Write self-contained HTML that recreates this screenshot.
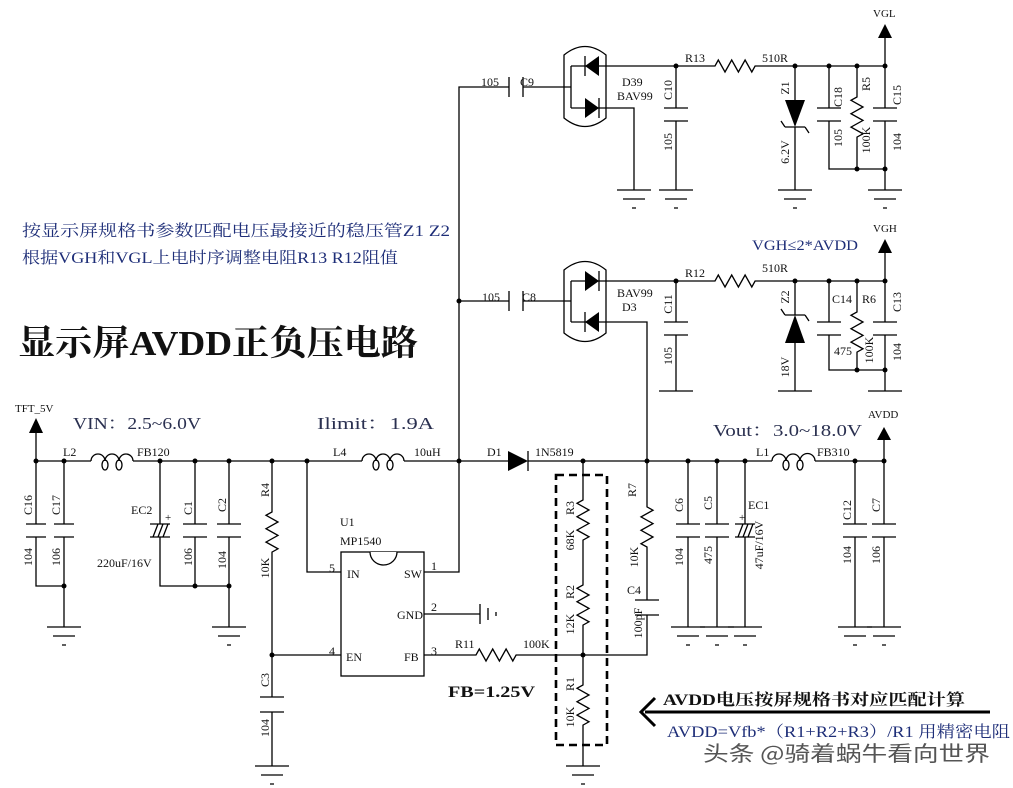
<!DOCTYPE html>
<html><head><meta charset="utf-8"><style>
html,body{margin:0;padding:0;background:#fff;width:1013px;height:788px;overflow:hidden}
svg{display:block}
text{font-family:"Liberation Serif","Noto Serif CJK SC",serif;font-size:12px;fill:#111}
.w{fill:none;stroke:#000;stroke-width:1.3}
.r text{text-anchor:middle}
.b{fill:#1e2e78}
</style></head><body>
<svg width="1013" height="788" viewBox="0 0 1013 788" xmlns="http://www.w3.org/2000/svg">
<g class="w">
<path d="M36 461H91M133 461H362M404 461H508M528 461H772M815 461H884"/>
<path d="M36 461V432"/>
<path d="M36 461V524M26 524H46M26 537H46M36 537V586H64M64 461V524M54 524H74M54 537H74M64 537V627"/>
<path d="M47 627H81M53 636H75M62 645H66"/>
<path d="M160 461V524M150 524H170M150 537H170M153 537L158 524M158 537L163 524M163 537L168 524M160 537V586H229"/>
<path d="M195 461V524M183 524H207M183 537H207M195 537V586"/>
<path d="M229 461V524M217 524H241M217 537H241M229 537V627M212 627H246M218 636H240M227 645H231"/>
<path d="M272 461V512l-6 3.3l12 6.7l-12 6.7l12 6.7l-12 6.7l12 6.7l-6 3.3V697M260 697H284M260 712H284M272 712V766M255 766H289M261 775H283M270 784H274"/>
<path d="M272 655H341M307 461V572H341"/>
<rect x="341" y="552" width="83" height="124"/>
<path d="M370 552a13.5 13 0 0 0 27 0" style="fill:#fff"/>
<path d="M424 572H459V87H509M509 77V97M523 77V97M523 87H571"/>
<path d="M424 614H480M480 604V624M488 608V620M496 612V616"/>
<path d="M564 55Q585 38 606 55V118Q585 135 564 118Z"/>
<path d="M571 66V108M571 66H676M585 56V76M571 108H634V190M599 98V118"/>
<path d="M617 190H651M623 199H645M632 208H636"/>
<path d="M676 66V108M664 108H688M664 121H688M676 121V190M659 190H693M665 199H687M674 208H678"/>
<path d="M676 66H715l3.3-6l6.7 12l6.7-12l6.7 12l6.7-12l6.7 12l3.3-6H885"/>
<path d="M795 66V100M785 127H805M781 121L785 127M805 127L809 133M795 127V190M778 190H812M784 199H806M793 208H797"/>
<path d="M829 66V108M817 108H841M817 121H841M829 121V169H885"/>
<path d="M857 66V97l-6 3.3l12 6.7l-12 6.7l12 6.7l-12 6.7l12 6.7l-6 3.3V169"/>
<path d="M885 66V108M873 108H897M873 121H897M885 121V190M868 190H902M874 199H896M883 208H887"/>
<path d="M885 66V38"/>
<path d="M459 301H509M509 291V311M523 291V311M523 301H571"/>
<path d="M564 270Q585 253 606 270V333Q585 350 564 333Z"/>
<path d="M571 281V322M571 281H676M599 271V291M571 322H647V461M585 312V332"/>
<path d="M676 281V322M664 322H688M664 335H688M676 335V391M659 391H693"/>
<path d="M676 281H715l3.3-6l6.7 12l6.7-12l6.7 12l6.7-12l6.7 12l3.3-6H885"/>
<path d="M795 281V315M785 315H805M781 309L785 315M805 315L809 321M795 343V391M778 391H812"/>
<path d="M829 281V322M817 322H841M817 335H841M829 335V370H885"/>
<path d="M857 281V312l-6 3.3l12 6.7l-12 6.7l12 6.7l-12 6.7l12 6.7l-6 3.3V370"/>
<path d="M885 281V322M873 322H897M873 335H897M885 335V391M868 391H902M885 281V253"/>
<path d="M528 451V471"/>
<path d="M583 461V500l-6 3.3l12 6.7l-12 6.7l12 6.7l-12 6.7l12 6.7l-6 3.3V585l-6 3.3l12 6.7l-12 6.7l12 6.7l-12 6.7l12 6.7l-6 3.3V685l-6 3.3l12 6.7l-12 6.7l12 6.7l-12 6.7l12 6.7l-6 3.3V766M566 766H600M572 775H594M581 784H585"/>
<path d="M424 655H476l3.3-6l6.7 12l6.7-12l6.7 12l6.7-12l6.7 12l3.3-6H647V615M635 615H659M635 600H659M647 600V547l-6-3.3l12-6.7l-12-6.7l12-6.7l-12-6.7l12-6.7l-6-3.3V461"/>
<rect x="556" y="475" width="51" height="270" stroke-width="2.6" stroke-dasharray="8,5"/>
<path d="M688 461V524M676 524H700M676 537H700M688 537V627M671 627H705M677 636H699M686 645H690"/>
<path d="M717 461V524M705 524H729M705 537H729M717 537V627M700 627H734M706 636H728M715 645H719"/>
<path d="M745 461V524M735 524H755M735 537H755M738 537L743 524M743 537L748 524M748 537L753 524M745 537V627M728 627H762M734 636H756M743 645H747"/>
<path d="M855 461V524M843 524H867M843 537H867M855 537V627M838 627H872M844 636H866M853 645H857"/>
<path d="M884 461V524M872 524H896M872 537H896M884 537V627M867 627H901M873 636H895M882 645H886"/>
<path d="M884 461V440"/>
<path d="M91 461a7 7 0 0 1 14 0a7 7 0 0 1 14 0a7 7 0 0 1 14 0"/>
<ellipse cx="105" cy="465" rx="3" ry="5"/><ellipse cx="119" cy="465" rx="3" ry="5"/>
<path d="M362 461a7 7 0 0 1 14 0a7 7 0 0 1 14 0a7 7 0 0 1 14 0"/>
<ellipse cx="376" cy="465" rx="3" ry="5"/><ellipse cx="390" cy="465" rx="3" ry="5"/>
<path d="M772 461a7 7 0 0 1 14 0a7 7 0 0 1 14 0a7 7 0 0 1 15 0"/>
<ellipse cx="786" cy="465" rx="3" ry="5"/><ellipse cx="800" cy="465" rx="3" ry="5"/>
<path d="M645 712H990" stroke-width="3"/>
<path d="M655 698L641 712L655 726" stroke-width="3"/>
</g>
<g fill="#000">
<polygon points="36,418 29,433 43,433"/>
<polygon points="885,24 878,38 892,38"/>
<polygon points="885,239 878,253 892,253"/>
<polygon points="884,427 877,440 891,440"/>
<polygon points="508,451 508,471 528,461"/>
<polygon points="585,66 599,56 599,76"/>
<polygon points="585,98 585,118 599,108"/>
<polygon points="585,271 585,291 599,281"/>
<polygon points="585,322 599,312 599,332"/>
<polygon points="785,100 805,100 795,127"/>
<polygon points="795,315 785,343 805,343"/>
<g>
<circle cx="36" cy="461" r="2.5"/><circle cx="64" cy="461" r="2.5"/><circle cx="160" cy="461" r="2.5"/><circle cx="195" cy="461" r="2.5"/><circle cx="229" cy="461" r="2.5"/><circle cx="272" cy="461" r="2.5"/><circle cx="307" cy="461" r="2.5"/><circle cx="459" cy="461" r="2.5"/><circle cx="583" cy="461" r="2.5"/><circle cx="647" cy="461" r="2.5"/><circle cx="688" cy="461" r="2.5"/><circle cx="717" cy="461" r="2.5"/><circle cx="745" cy="461" r="2.5"/><circle cx="855" cy="461" r="2.5"/><circle cx="884" cy="461" r="2.5"/>
<circle cx="64" cy="586" r="2.5"/><circle cx="195" cy="586" r="2.5"/><circle cx="229" cy="586" r="2.5"/><circle cx="272" cy="655" r="2.5"/><circle cx="583" cy="655" r="2.5"/><circle cx="459" cy="301" r="2.5"/>
<circle cx="676" cy="66" r="2.5"/><circle cx="795" cy="66" r="2.5"/><circle cx="829" cy="66" r="2.5"/><circle cx="857" cy="66" r="2.5"/><circle cx="885" cy="66" r="2.5"/><circle cx="857" cy="169" r="2.5"/><circle cx="885" cy="169" r="2.5"/>
<circle cx="676" cy="281" r="2.5"/><circle cx="795" cy="281" r="2.5"/><circle cx="829" cy="281" r="2.5"/><circle cx="857" cy="281" r="2.5"/><circle cx="885" cy="281" r="2.5"/><circle cx="857" cy="370" r="2.5"/><circle cx="885" cy="370" r="2.5"/>
</g>
</g>
<text x="15" y="412" style="font-size:11px">TFT_5V</text>
<text x="63" y="456">L2</text><text x="137" y="456">FB120</text>
<text x="131" y="514">EC2</text><text x="165" y="521" style="font-size:11px">+</text>
<text x="97" y="567">220uF/16V</text>
<text x="340" y="526">U1</text><text x="340" y="545">MP1540</text>
<text x="329" y="572">5</text><text x="347" y="578">IN</text><text x="404" y="578">SW</text><text x="431" y="570">1</text>
<text x="397" y="619">GND</text><text x="431" y="611">2</text>
<text x="329" y="655">4</text><text x="346" y="661">EN</text><text x="404" y="661">FB</text><text x="431" y="655">3</text>
<text x="455" y="648">R11</text><text x="523" y="648">100K</text>
<text x="333" y="456">L4</text><text x="414" y="456">10uH</text><text x="487" y="456">D1</text><text x="535" y="456">1N5819</text>
<text x="627" y="594">C4</text><text x="748" y="509">EC1</text><text x="739" y="521" style="font-size:11px">+</text>
<text x="756" y="456">L1</text><text x="817" y="456">FB310</text>
<text x="868" y="418" style="font-size:11px">AVDD</text>
<text x="481" y="86">105</text><text x="520" y="86">C9</text>
<text x="622" y="86">D39</text><text x="617" y="100">BAV99</text>
<text x="685" y="62">R13</text><text x="762" y="62">510R</text>
<text x="873" y="17" style="font-size:11px">VGL</text>
<text x="482" y="301">105</text><text x="522" y="301">C8</text>
<text x="617" y="297">BAV99</text><text x="622" y="311">D3</text>
<text x="685" y="277">R12</text><text x="762" y="272">510R</text>
<text x="832" y="303">C14</text><text x="862" y="303">R6</text><text x="834" y="355">475</text>
<text x="873" y="232" style="font-size:11px">VGH</text>
<g class="r">
<text transform="rotate(-90 28 505)" x="28" y="509">C16</text>
<text transform="rotate(-90 56 505)" x="56" y="509">C17</text>
<text transform="rotate(-90 28 557)" x="28" y="561">104</text>
<text transform="rotate(-90 56 557)" x="56" y="561">106</text>
<text transform="rotate(-90 188 508)" x="188" y="512">C1</text>
<text transform="rotate(-90 188 557)" x="188" y="561">106</text>
<text transform="rotate(-90 222 505)" x="222" y="509">C2</text>
<text transform="rotate(-90 222 560)" x="222" y="564">104</text>
<text transform="rotate(-90 265 490)" x="265" y="494">R4</text>
<text transform="rotate(-90 265 568)" x="265" y="572">10K</text>
<text transform="rotate(-90 265 680)" x="265" y="684">C3</text>
<text transform="rotate(-90 265 728)" x="265" y="732">104</text>
<text transform="rotate(-90 570 508)" x="570" y="512">R3</text>
<text transform="rotate(-90 570 540)" x="570" y="544">68K</text>
<text transform="rotate(-90 570 592)" x="570" y="596">R2</text>
<text transform="rotate(-90 570 624)" x="570" y="628">12K</text>
<text transform="rotate(-90 570 684)" x="570" y="688">R1</text>
<text transform="rotate(-90 570 717)" x="570" y="721">10K</text>
<text transform="rotate(-90 632 490)" x="632" y="494">R7</text>
<text transform="rotate(-90 634 557)" x="634" y="561">10K</text>
<text transform="rotate(-90 638 623)" x="638" y="627">100pF</text>
<text transform="rotate(-90 679 505)" x="679" y="509">C6</text>
<text transform="rotate(-90 679 557)" x="679" y="561">104</text>
<text transform="rotate(-90 708 503)" x="708" y="507">C5</text>
<text transform="rotate(-90 708 555)" x="708" y="559">475</text>
<text transform="rotate(-90 759 545)" x="759" y="549">47uF/16V</text>
<text transform="rotate(-90 847 510)" x="847" y="514">C12</text>
<text transform="rotate(-90 847 555)" x="847" y="559">104</text>
<text transform="rotate(-90 876 505)" x="876" y="509">C7</text>
<text transform="rotate(-90 876 555)" x="876" y="559">106</text>
<text transform="rotate(-90 668 90)" x="668" y="94">C10</text>
<text transform="rotate(-90 668 142)" x="668" y="146">105</text>
<text transform="rotate(-90 785 88)" x="785" y="92">Z1</text>
<text transform="rotate(-90 785 152)" x="785" y="156">6.2V</text>
<text transform="rotate(-90 838 97)" x="838" y="101">C18</text>
<text transform="rotate(-90 838 138)" x="838" y="142">105</text>
<text transform="rotate(-90 866 84)" x="866" y="88">R5</text>
<text transform="rotate(-90 866 140)" x="866" y="144">100K</text>
<text transform="rotate(-90 897 95)" x="897" y="99">C15</text>
<text transform="rotate(-90 897 142)" x="897" y="146">104</text>
<text transform="rotate(-90 668 304)" x="668" y="308">C11</text>
<text transform="rotate(-90 668 356)" x="668" y="360">105</text>
<text transform="rotate(-90 785 297)" x="785" y="301">Z2</text>
<text transform="rotate(-90 785 367)" x="785" y="371">18V</text>
<text transform="rotate(-90 869 350)" x="869" y="354">100K</text>
<text transform="rotate(-90 897 302)" x="897" y="306">C13</text>
<text transform="rotate(-90 897 352)" x="897" y="356">104</text>
</g>
<text class="b" x="22" y="236" style="font-size:16px" textLength="428" lengthAdjust="spacingAndGlyphs">按显示屏规格书参数匹配电压最接近的稳压管Z1  Z2</text>
<text class="b" x="22" y="263" style="font-size:16px" textLength="376" lengthAdjust="spacingAndGlyphs">根据VGH和VGL上电时序调整电阻R13  R12阻值</text>
<text x="18" y="355" style="font-size:35px;font-weight:bold" textLength="400" lengthAdjust="spacingAndGlyphs">显示屏AVDD正负压电路</text>
<text class="b" x="752" y="250" style="font-size:15px" textLength="106" lengthAdjust="spacingAndGlyphs">VGH≤2*AVDD</text>
<text x="73" y="429" style="font-size:17px;fill:#2a3050" textLength="128" lengthAdjust="spacingAndGlyphs">VIN：2.5~6.0V</text>
<text x="317" y="429" style="font-size:17px;fill:#2a3050" textLength="117" lengthAdjust="spacingAndGlyphs">Ilimit：1.9A</text>
<text x="713" y="436" style="font-size:17px;fill:#2a3050" textLength="149" lengthAdjust="spacingAndGlyphs">Vout：3.0~18.0V</text>
<text x="448" y="697" style="font-size:16px;font-weight:bold" textLength="87" lengthAdjust="spacingAndGlyphs">FB=1.25V</text>
<text x="663" y="705" style="font-size:16px;font-weight:bold" textLength="302" lengthAdjust="spacingAndGlyphs">AVDD电压按屏规格书对应匹配计算</text>
<text class="b" x="667" y="737" style="font-size:16px" textLength="343" lengthAdjust="spacingAndGlyphs">AVDD=Vfb*（R1+R2+R3）/R1  用精密电阻</text>
<text x="703" y="761" style="font-size:21px;fill:#555;font-family:'Noto Sans CJK SC',sans-serif" textLength="287" lengthAdjust="spacingAndGlyphs">头条 @骑着蜗牛看向世界</text>
</svg>
</body></html>
